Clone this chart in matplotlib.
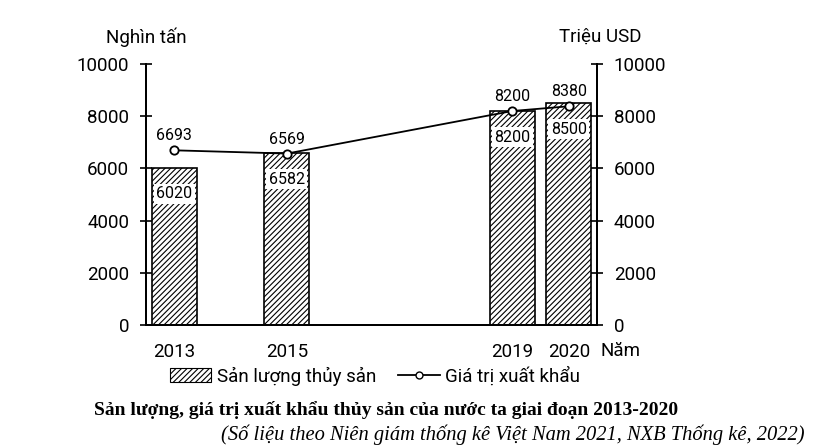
import matplotlib
matplotlib.use("Agg")
import matplotlib.pyplot as plt
from matplotlib.patches import Patch
from matplotlib.lines import Line2D

plt.rcParams['font.family'] = ['Roboto', 'DejaVu Sans']
plt.rcParams['hatch.linewidth'] = 0.8

# data
years = [2013, 2015, 2019, 2020]
san_luong = [6020, 6582, 8200, 8500]      # nghin tan
gia_tri = [6693, 6569, 8200, 8380]        # trieu USD
yticks = [0, 2000, 4000, 6000, 8000, 10000]

fig = plt.figure(figsize=(8.14, 4.48), dpi=100)
ax = fig.add_axes([146/814, 1 - 325/448, (597 - 146)/814, 261/448])
ax2 = ax.twinx()

# bars
ax.bar(years, san_luong, width=0.8, color='white', edgecolor='black',
       linewidth=1.2, hatch='//////', zorder=2)
for x, v in zip(years, san_luong):
    ax.text(x, v - 1000, str(v), ha='center', va='center', fontsize=11.5,
            bbox=dict(boxstyle='square,pad=0.15', fc='white', ec='none'), zorder=3)

# line
ax2.plot(years, gia_tri, color='black', lw=1.3, marker='o', ms=6,
         mfc='white', mec='black', mew=1.3, zorder=4)
for x, v in zip(years, gia_tri):
    ax2.annotate(str(v), (x, v), xytext=(0, 5), textcoords='offset points',
                 ha='center', va='bottom', fontsize=11.5)

for a in (ax, ax2):
    a.set_ylim(0, 10000)
    a.set_yticks(yticks)
    a.spines['top'].set_visible(False)
    for s in a.spines.values():
        s.set_linewidth(1.4)
    a.tick_params(axis='y', direction='inout', length=8, width=1.2,
                  labelsize=13.5, pad=8)
ax.set_xlim(2012.5, 2020.5)
ax.set_xticks(years)
ax.tick_params(axis='x', length=0, labelsize=13.5, pad=13)
ax.set_zorder(ax2.get_zorder() - 1)
ax.patch.set_visible(True)
ax2.patch.set_visible(False)

fig.text(146/814, 1 - 37/448, 'Nghìn tấn', ha='center', va='center', fontsize=13.5)
fig.text(600/814, 1 - 37/448, 'Triệu USD', ha='center', va='center', fontsize=13.5)
fig.text(600/814, 1 - 351/448, 'Năm', ha='left', va='center', fontsize=13.5)

handles = [Patch(facecolor='white', edgecolor='black', hatch='//////', lw=0.8),
           Line2D([], [], color='black', lw=1.3, marker='o', ms=5,
                  mfc='white', mec='black')]
fig.legend(handles, ['Sản lượng thủy sản', 'Giá trị xuất khẩu'],
           loc='center', bbox_to_anchor=(375/814, 1 - 376/448), ncol=2,
           frameon=False, fontsize=13.5, handlelength=2.2, handleheight=0.8,
           handletextpad=0.3, columnspacing=1.2)

fig.text(386/814, 1 - 410/448,
         'Sản lượng, giá trị xuất khẩu thủy sản của nước ta giai đoạn 2013-2020',
         ha='center', va='center', fontsize=14, fontweight='bold',
         family='Liberation Serif')
fig.text(805/814, 1 - 435/448,
         '(Số liệu theo Niên giám thống kê Việt Nam 2021, NXB Thống kê, 2022)',
         ha='right', va='center', fontsize=14.8, style='italic',
         family='Liberation Serif')

fig.savefig('out.png', dpi=100)
